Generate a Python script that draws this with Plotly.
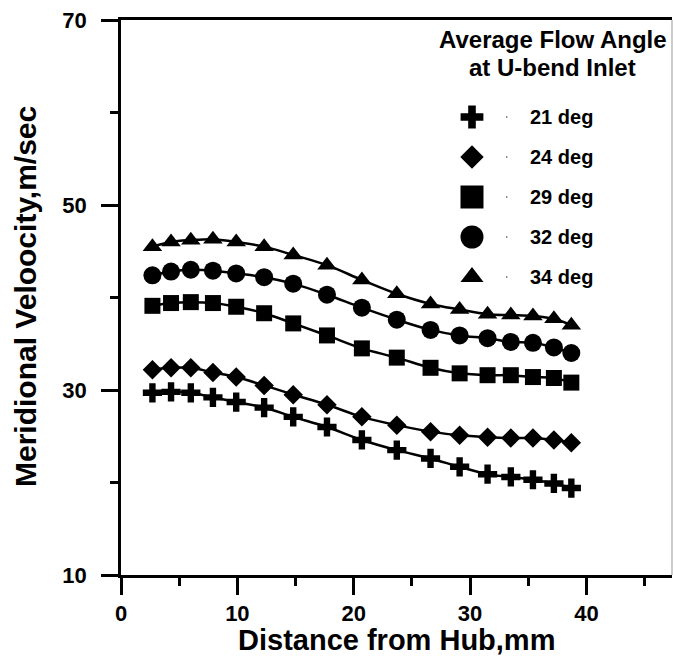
import plotly.graph_objects as go

# ---- data ----
distance_mm = [2.7, 4.3, 6.0, 7.9, 9.9, 12.3, 14.8, 17.7, 20.7, 23.7, 26.6, 29.1, 31.5, 33.5, 35.4, 37.2, 38.7]
vel_21deg = [29.7, 29.8, 29.7, 29.2, 28.7, 28.1, 27.1, 26.0, 24.6, 23.5, 22.6, 21.7, 20.9, 20.6, 20.3, 19.9, 19.4]
vel_24deg = [32.2, 32.4, 32.4, 31.9, 31.4, 30.5, 29.5, 28.4, 27.1, 26.2, 25.5, 25.1, 24.9, 24.8, 24.8, 24.6, 24.3]
vel_29deg = [39.1, 39.4, 39.5, 39.4, 39.0, 38.3, 37.2, 35.9, 34.5, 33.5, 32.4, 31.8, 31.6, 31.6, 31.4, 31.3, 30.8]
vel_32deg = [42.4, 42.8, 43.0, 42.9, 42.6, 42.2, 41.5, 40.3, 38.9, 37.6, 36.5, 35.9, 35.6, 35.2, 35.1, 34.6, 34.0]
vel_34deg = [45.5, 46.0, 46.2, 46.3, 46.0, 45.5, 44.6, 43.5, 41.9, 40.4, 39.3, 38.7, 38.2, 38.1, 38.0, 37.7, 37.0]

series_labels = ["21 deg", "24 deg", "29 deg", "32 deg", "34 deg"]
x_tick_vals = [0, 10, 20, 30, 40]
y_tick_vals = [10, 30, 50, 70]

series = [
    (series_labels[0], vel_21deg, "cross", 16, 19),
    (series_labels[1], vel_24deg, "diamond", 15, 18),
    (series_labels[2], vel_29deg, "square", 16, 23),
    (series_labels[3], vel_32deg, "circle", 18, 23),
    (series_labels[4], vel_34deg, "triangle-up", 17, 20),
]

FONT = "Liberation Sans, Arial, sans-serif"
fig = go.Figure()

for name, vals, sym, size, _ in series:
    fig.add_trace(go.Scatter(
        x=distance_mm, y=vals, name=name, mode="lines+markers",
        line=dict(color="black", width=2.5, shape="spline", smoothing=1.0),
        marker=dict(symbol=sym, size=size, color="black", line=dict(width=0)),
        showlegend=False,
    ))

# manual legend (key markers on a hidden overlay axis)
leg_x_marker, leg_x_dot, leg_x_text = 0.637, 0.700, 0.739
row0_px, row_step_px = 117, 40
annotations = []
for i, (name, vals, sym, size, leg_size) in enumerate(series):
    ypx = row0_px + i * row_step_px
    yp = (575 - ypx) / 555
    fig.add_trace(go.Scatter(
        x=[leg_x_marker], y=[yp], xaxis="x2", yaxis="y2", mode="markers",
        marker=dict(symbol=sym, size=leg_size, color="black", line=dict(width=0)),
        showlegend=False, hoverinfo="skip",
    ))
    fig.add_trace(go.Scatter(
        x=[leg_x_dot], y=[yp], xaxis="x2", yaxis="y2", mode="markers",
        marker=dict(symbol="square", size=1.5, color="#666"),
        showlegend=False, hoverinfo="skip",
    ))
    annotations.append(dict(
        text=f"<b>{name}</b>", x=leg_x_text, y=yp, xref="paper", yref="paper",
        xanchor="left", yanchor="middle", showarrow=False,
        font=dict(family=FONT, size=20, color="black"),
    ))

annotations += [
    dict(text="<b>Average Flow Angle</b>", x=0.784, y=(575 - 40) / 555, xref="paper", yref="paper",
         xanchor="center", yanchor="middle", showarrow=False,
         font=dict(family=FONT, size=24, color="black")),
    dict(text="<b>at U-bend Inlet</b>", x=0.784, y=(575 - 67) / 555, xref="paper", yref="paper",
         xanchor="center", yanchor="middle", showarrow=False,
         font=dict(family=FONT, size=24, color="black")),
    dict(text="<b>Distance from Hub,mm</b>", x=0.50, y=(575 - 640) / 555, xref="paper", yref="paper",
         xanchor="center", yanchor="middle", showarrow=False,
         font=dict(family=FONT, size=29, color="black")),
    dict(text="<b>Meridional Veloocity,m/sec</b>", x=(25 - 121) / 551, y=(575 - 297) / 555,
         xref="paper", yref="paper", xanchor="center", yanchor="middle", textangle=-90,
         showarrow=False, font=dict(family=FONT, size=30, color="black")),
]

fig.update_layout(
    width=673, height=669,
    margin=dict(l=121, r=1, t=20, b=94),
    paper_bgcolor="white", plot_bgcolor="white",
    font=dict(family=FONT, color="black"),
    annotations=annotations,
    shapes=[dict(type="line", xref="paper", yref="paper", x0=1, x1=1, y0=0, y1=1,
                 line=dict(color="#999", width=1))],
    xaxis=dict(
        range=[0, 47.35], tickvals=x_tick_vals, ticktext=[f"<b>{v}</b>" for v in x_tick_vals],
        ticks="outside", ticklen=17, tickwidth=2.5, tickcolor="black",
        minor=dict(ticks="outside", ticklen=8, tickwidth=2.5, tickcolor="black", dtick=5, tick0=0),
        showline=True, linecolor="black", linewidth=2.5, mirror=True,
        showgrid=False, zeroline=False,
        tickfont=dict(family=FONT, size=22, color="black"),
    ),
    yaxis=dict(
        range=[10, 70], tickvals=y_tick_vals, ticktext=[f"<b>{v}</b>" for v in y_tick_vals],
        ticks="outside", ticklen=17, tickwidth=2.5, tickcolor="black",
        minor=dict(ticks="outside", ticklen=8, tickwidth=2.5, tickcolor="black", dtick=10, tick0=10),
        showline=True, linecolor="black", linewidth=2.5, mirror=False,
        showgrid=False, zeroline=False, ticklabelstandoff=10,
        tickfont=dict(family=FONT, size=22, color="black"),
    ),
    xaxis2=dict(range=[0, 1], overlaying="x", visible=False, domain=[0, 1]),
    yaxis2=dict(range=[0, 1], overlaying="y", visible=False, domain=[0, 1]),
)

fig.write_html("out.html", config={"displayModeBar": False},
               post_script="document.body.style.margin='0';")
